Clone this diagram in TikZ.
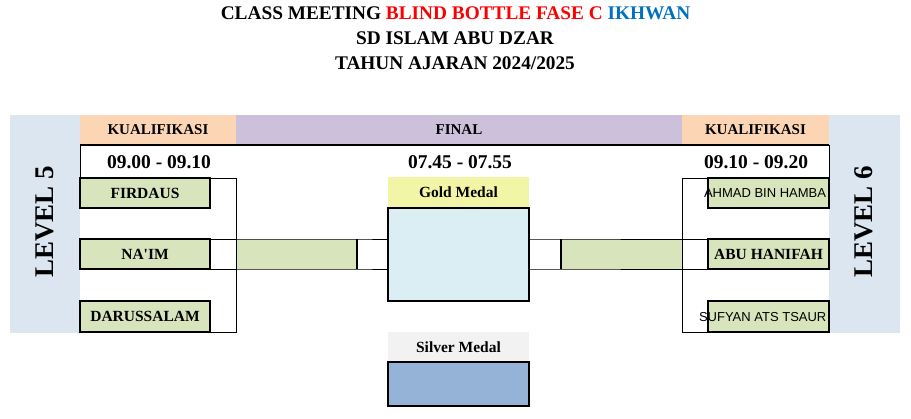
\documentclass[tikz,border=0pt]{standalone}
\usepackage{fontspec}
\setmainfont{Liberation Serif}
\newfontfamily\arialfont{Liberation Sans}
\definecolor{lvlc}{RGB}{220,230,241}
\definecolor{kualc}{RGB}{252,213,180}
\definecolor{finc}{RGB}{204,192,218}
\definecolor{teamc}{RGB}{216,228,188}
\definecolor{goldlc}{RGB}{242,244,166}
\definecolor{goldbc}{RGB}{218,238,243}
\definecolor{silverlc}{RGB}{242,242,242}
\definecolor{silverbc}{RGB}{149,179,215}
\definecolor{ttlred}{RGB}{255,0,0}
\definecolor{ttlblue}{RGB}{0,112,192}
\begin{document}
\begin{tikzpicture}[x=1pt,y=-1pt,
  every node/.style={inner sep=0pt,outer sep=0pt},
  thinln/.style={line width=0.9pt,black},
  thickln/.style={line width=2pt,black},
  cell/.style={anchor=north west,rectangle},
  teambox/.style={cell,draw=black,line width=2pt,fill=teamc,font=\bfseries\fontsize{15.5}{18}\selectfont},
  hdr/.style={cell,font=\bfseries\fontsize{15}{18}\selectfont},
  timetxt/.style={font=\bfseries\fontsize{19.5}{22}\selectfont},
  ttl/.style={font=\bfseries\fontsize{19.3}{22}\selectfont},
  lvltxt/.style={rotate=90,font=\bfseries\fontsize{27}{30}\selectfont},
  sanstxt/.style={font=\arialfont\fontsize{13}{15}\selectfont,anchor=west}
]
\useasboundingbox (0,0) rectangle (911,419);

% title
\node[ttl] (t1) at (455.5,13) {CLASS MEETING \textcolor{ttlred}{BLIND BOTTLE FASE C} \textcolor{ttlblue}{IKHWAN}};
\node[ttl] (t2) at (455,38) {SD ISLAM ABU DZAR};
\node[ttl] (t3) at (455,63) {TAHUN AJARAN 2024/2025};

% level bands
\node[cell,fill=lvlc,minimum width=70pt,minimum height=218pt] (lvl5) at (10,115) {};
\node[cell,fill=lvlc,minimum width=71pt,minimum height=218pt] (lvl6) at (829,115) {};
\node[lvltxt] (lvl5t) at (45,222) {LEVEL 5};
\node[lvltxt] (lvl6t) at (864,222) {LEVEL 6};

% headers
\node[hdr,fill=kualc,minimum width=156pt,minimum height=30pt] (kualL) at (80,115) {KUALIFIKASI};
\node[hdr,fill=finc,minimum width=446pt,minimum height=30pt] (final) at (236,115) {FINAL};
\node[hdr,fill=kualc,minimum width=147pt,minimum height=30pt] (kualR) at (682,115) {KUALIFIKASI};

% times
\node[timetxt] (timeL) at (159,162) {09.00 - 09.10};
\node[timetxt] (timeC) at (460,162) {07.45 - 07.55};
\node[timetxt] (timeR) at (756,162) {09.10 - 09.20};

% left teams
\node[teambox,minimum width=130pt,minimum height=30pt] (firdaus) at (80,178) {FIRDAUS};
\node[teambox,minimum width=130pt,minimum height=30pt] (naim) at (80,239) {NA\textquotesingle IM};
\node[teambox,minimum width=130pt,minimum height=31pt] (daru) at (80,301) {DARUSSALAM};

% left final bar
\node[cell,fill=teamc,minimum width=121pt,minimum height=30pt] (barL) at (236,239) {};

% gold
\node[cell,fill=goldlc,minimum width=141pt,minimum height=31pt,font=\bfseries\fontsize{15.5}{18}\selectfont] (goldl) at (388,177) {Gold Medal};
\node[cell,fill=goldbc,draw=black,line width=2pt,minimum width=141pt,minimum height=93pt] (goldb) at (388,208) {};

% right final bar
\node[cell,fill=teamc,minimum width=121pt,minimum height=30pt] (barR) at (561,239) {};

% right teams
\node[teambox,minimum width=121pt,minimum height=30pt] (ahmad) at (708,178) {};
\node[teambox,minimum width=121pt,minimum height=30pt] (hanifah) at (708,239) {ABU HANIFAH};
\node[teambox,minimum width=121pt,minimum height=31pt] (sufyan) at (708,301) {};
\node[sanstxt] (ahmadt) at (704,193) {AHMAD BIN HAMBA};
\begin{scope}
  \clip (690,300) rectangle (826,333);
  \node[sanstxt] (sufyant) at (699,317) {SUFYAN ATS TSAUR};
\end{scope}

% silver
\node[cell,fill=silverlc,minimum width=141pt,minimum height=30pt,font=\bfseries\fontsize{15.5}{18}\selectfont] (silverl) at (388,332) {Silver Medal};
\node[cell,fill=silverbc,draw=black,line width=2pt,minimum width=141pt,minimum height=44pt] (silverb) at (388,362) {};

% header bottom line and time row borders
\draw[thickln] (kualL.south west) -- (kualR.south east);
\draw[thinln] (kualL.south west) -- (firdaus.north west);
\draw[thinln] (kualR.south east) -- (ahmad.north east);

% left bracket
\coordinate (bl1) at (236,178);
\coordinate (bl2) at (236,332);
\draw[thinln] (firdaus.north east) -- (bl1) -- (bl2) -- (daru.south east);
\draw[thinln] (naim.north east) -- (barL.north west);
\draw[thinln] (naim.south east) -- (barL.south west);
\draw[thinln] (barL.north west) -- (barL.north east) -- (barL.north east -| goldb.west);
\draw[thinln] (barL.south west) -- (barL.south east) -- (barL.south east -| goldb.west);
\draw[thickln] (barL.north east) -- (barL.south east);

% right bracket
\coordinate (br1) at (682,178);
\coordinate (br2) at (682,332);
\draw[thinln] (ahmad.north west) -- (br1) -- (br2) -- (sufyan.south west);
\draw[thinln] (barR.north east) -- (hanifah.north west);
\draw[thinln] (barR.south east) -- (hanifah.south west);
\draw[thinln] (barR.north west -| goldb.east) -- (barR.north west) -- (barR.north east);
\draw[thinln] (barR.south west -| goldb.east) -- (barR.south west) -- (barR.south east);
\draw[thickln] (barR.north west) -- (barR.south west);
\end{tikzpicture}
\end{document}
